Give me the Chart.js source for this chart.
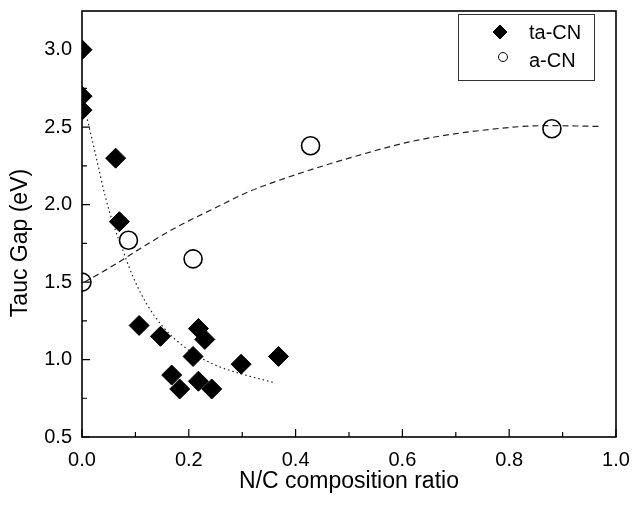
<!DOCTYPE html>
<html>
<head>
<meta charset="utf-8">
<script src="https://cdn.jsdelivr.net/npm/chart.js@4.4.1/dist/chart.umd.min.js"></script>
<style>
  html, body { margin: 0; padding: 0; background: #fff; }
  #wrap { width: 633px; height: 505px; }
</style>
</head>
<body>
<div id="wrap"><canvas id="gapChart" width="633" height="505"></canvas></div>
<script>
// ta-CN films (filled diamonds)
const taCN_x = [0, 0, 0, 0.063, 0.070, 0.107, 0.147, 0.168, 0.183, 0.208, 0.218, 0.230, 0.218, 0.243, 0.298, 0.368];
const taCN_y = [3.00, 2.70, 2.61, 2.30, 1.89, 1.22, 1.15, 0.90, 0.81, 1.02, 1.20, 1.13, 0.86, 0.81, 0.97, 1.02];

// a-CN films (open circles)
const aCN_x = [0, 0.087, 0.208, 0.428, 0.880];
const aCN_y = [1.50, 1.77, 1.65, 2.38, 2.49];

// guide curves
const dashFit_x = [0.005, 0.06, 0.12, 0.18, 0.25, 0.31, 0.38, 0.50, 0.62, 0.75, 0.87, 0.97];
const dashFit_y = [1.50, 1.61, 1.74, 1.86, 1.98, 2.08, 2.17, 2.30, 2.41, 2.48, 2.51, 2.505];
const dotFit_x = [0.01, 0.027, 0.043, 0.059, 0.077, 0.096, 0.121, 0.152, 0.196, 0.246, 0.296, 0.361];
const dotFit_y = [2.55, 2.30, 2.06, 1.87, 1.70, 1.53, 1.36, 1.21, 1.07, 0.97, 0.91, 0.85];

const FONT = "'Liberation Sans', Arial, sans-serif";

function pts(xs, ys) {
  return xs.map((x, i) => ({ x: x, y: ys[i] }));
}

// box round the plot, inward ticks on bottom + left, y title, legend
const frame = {
  id: 'frame',
  afterDatasetsDraw(chart) {
    const { ctx, chartArea: a, scales: { x, y } } = chart;
    ctx.save();
    ctx.strokeStyle = '#000';
    ctx.lineWidth = 1.2;

    const xMaj = x.ticks.map(t => t.value);
    const yMaj = y.ticks.map(t => t.value);
    const mids = arr => arr.slice(1).map((v, i) => (v + arr[i]) / 2);

    ctx.beginPath();
    xMaj.forEach(v => { const p = x.getPixelForValue(v); ctx.moveTo(p, a.bottom); ctx.lineTo(p, a.bottom - 8); });
    mids(xMaj).forEach(v => { const p = x.getPixelForValue(v); ctx.moveTo(p, a.bottom); ctx.lineTo(p, a.bottom - 5); });
    yMaj.forEach(v => { const p = y.getPixelForValue(v); ctx.moveTo(a.left, p); ctx.lineTo(a.left + 8, p); });
    mids(yMaj).forEach(v => { const p = y.getPixelForValue(v); ctx.moveTo(a.left, p); ctx.lineTo(a.left + 5, p); });
    ctx.stroke();

    ctx.lineWidth = 1.6;
    ctx.strokeRect(a.left, a.top, a.right - a.left, a.bottom - a.top);
    ctx.restore();
  },
  afterDraw(chart) {
    const ctx = chart.ctx;
    const ds = chart.data.datasets;
    ctx.save();

    // y axis title
    ctx.translate(21, 243);
    ctx.rotate(-Math.PI / 2);
    ctx.font = '23px ' + FONT;
    ctx.fillStyle = '#000';
    ctx.textAlign = 'center';
    ctx.textBaseline = 'middle';
    ctx.fillText('Tauc Gap (eV)', 0, 0);
    ctx.setTransform(1, 0, 0, 1, 0, 0);

    // legend
    ctx.strokeStyle = '#333';
    ctx.lineWidth = 1;
    ctx.strokeRect(458.5, 14.5, 136, 66);
    ctx.fillStyle = '#000';
    ctx.strokeStyle = '#000';
    Chart.helpers.drawPoint(ctx, { pointStyle: 'rectRot', radius: 7, borderWidth: 1, rotation: 0 }, 500, 32);
    ctx.fillStyle = 'rgba(0,0,0,0)';
    Chart.helpers.drawPoint(ctx, { pointStyle: 'circle', radius: 4.5, borderWidth: 1, rotation: 0 }, 503, 57);
    ctx.fillStyle = '#000';
    ctx.font = '20px ' + FONT;
    ctx.textAlign = 'left';
    ctx.textBaseline = 'middle';
    ctx.fillText(ds[0].label, 529, 33);
    ctx.fillText(ds[1].label, 529, 61);
    ctx.restore();
  }
};

const ctx = document.getElementById('gapChart').getContext('2d');
new Chart(ctx, {
  type: 'scatter',
  data: {
    datasets: [
      {
        label: 'ta-CN',
        data: pts(taCN_x, taCN_y),
        pointStyle: 'rectRot',
        pointRadius: 10,
        pointBorderWidth: 1,
        backgroundColor: '#000',
        borderColor: '#000',
        clip: 0,
        order: 1
      },
      {
        label: 'a-CN',
        data: pts(aCN_x, aCN_y),
        pointStyle: 'circle',
        pointRadius: 9,
        pointBorderWidth: 1.6,
        backgroundColor: 'rgba(0,0,0,0)',
        borderColor: '#000',
        clip: 0,
        order: 2
      },
      {
        label: 'fit a-CN',
        data: pts(dashFit_x, dashFit_y),
        showLine: true,
        pointRadius: 0,
        borderColor: '#222',
        borderWidth: 1.2,
        borderDash: [6, 4],
        cubicInterpolationMode: 'monotone',
        clip: 0,
        order: 3
      },
      {
        label: 'fit ta-CN',
        data: pts(dotFit_x, dotFit_y),
        showLine: true,
        pointRadius: 0,
        borderColor: '#222',
        borderWidth: 1.2,
        borderDash: [1.5, 3],
        cubicInterpolationMode: 'monotone',
        clip: 0,
        order: 4
      }
    ]
  },
  options: {
    responsive: false,
    maintainAspectRatio: false,
    animation: false,
    layout: { padding: { top: 7, right: 17, left: 0, bottom: 0 } },
    plugins: {
      legend: { display: false },
      tooltip: { enabled: false }
    },
    scales: {
      x: {
        type: 'linear',
        min: 0,
        max: 1,
        grid: { display: false, drawTicks: false },
        border: { display: false },
        ticks: {
          stepSize: 0.2,
          padding: 11,
          color: '#000',
          font: { family: FONT, size: 20 },
          callback: v => v.toFixed(1)
        },
        title: {
          display: true,
          text: 'N/C composition ratio',
          color: '#000',
          font: { family: FONT, size: 23 },
          padding: { top: 0, bottom: 10 }
        },
        afterFit(s) { s.height = 68; s.paddingLeft = 0; s.paddingRight = 0; }
      },
      y: {
        min: 0.5,
        max: 3.25,
        grid: { display: false, drawTicks: false },
        border: { display: false },
        ticks: {
          stepSize: 0.5,
          includeBounds: false,
          padding: 10,
          color: '#000',
          font: { family: FONT, size: 20 },
          callback: v => v.toFixed(1)
        },
        afterFit(s) { s.width = 82; s.paddingTop = 0; s.paddingBottom = 0; }
      }
    }
  },
  plugins: [frame]
});
</script>
</body>
</html>
